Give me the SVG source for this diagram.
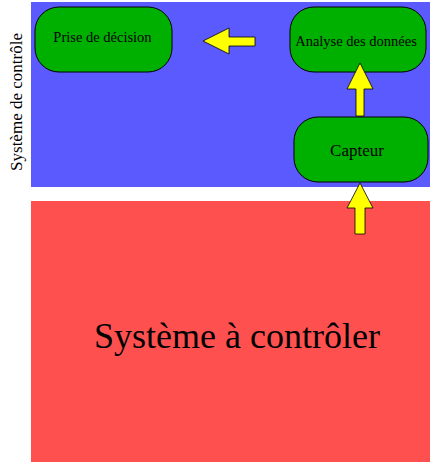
<svg xmlns="http://www.w3.org/2000/svg" width="430" height="462" viewBox="0 0 430 462">
<style>
.node{fill:#00b000;stroke:#000;stroke-width:1}
.arrow{fill:#ffff00;stroke:#000;stroke-width:0.8}
text{font-family:"Liberation Serif","Times New Roman",serif;fill:#000}
</style>
<rect width="430" height="462" fill="#fff"/>
<g id="systeme-controle">
<rect x="31" y="2" width="399" height="185" fill="#5a5aff"/>
<text transform="translate(22,102) rotate(-90)" font-size="17" text-anchor="middle">Système de contrôle</text>
</g>
<g id="systeme-a-controler">
<rect x="31" y="201" width="399" height="261" fill="#ff5050"/>
<text x="237" y="348" font-size="36" text-anchor="middle">Système à contrôler</text>
</g>
<g id="prise-de-decision">
<rect class="node" x="35" y="7" width="137" height="65" rx="24" ry="24"/>
<text x="102.5" y="42" font-size="14.5" text-anchor="middle">Prise de décision</text>
</g>
<g id="analyse-des-donnees">
<rect class="node" x="290" y="7" width="136" height="65" rx="24" ry="24"/>
<text x="356" y="46" font-size="14.5" text-anchor="middle">Analyse des données</text>
</g>
<g id="capteur">
<rect class="node" x="294" y="117" width="134" height="65" rx="24" ry="24"/>
<text x="357" y="156" font-size="17" text-anchor="middle">Capteur</text>
</g>
<g id="connectors">
<polygon class="arrow" points="203,41 229,28 229,37 255,37 255,46 229,46 229,54"/>
<polygon class="arrow" points="360,63 373,89 364,89 364,116 356,116 356,89 347,89"/>
<polygon class="arrow" points="360,183 373,208 365,208 365,234 355,234 355,208 347,208"/>
</g>
</svg>
